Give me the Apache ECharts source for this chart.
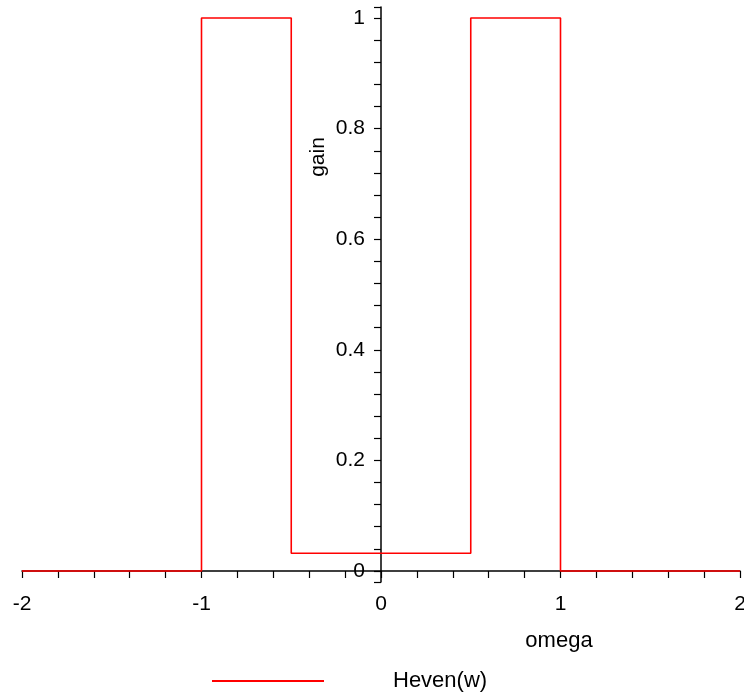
<!DOCTYPE html>
<html>
<head>
<meta charset="utf-8">
<script src="https://cdn.jsdelivr.net/npm/echarts@6/dist/echarts.min.js"></script>
<style>html,body{margin:0;padding:0;background:#fff}#c{width:744px;height:698px}</style>
</head>
<body>
<div id="c"></div>
<script>
// breakpoints of the curve Heven(w)
var omega = [-2, -1, -1, -0.5, -0.5, 0.5, 0.5, 1, 1, 2];
var gain  = [0, 0, 1, 1, 0.032, 0.032, 1, 1, 0, 0];
var xTicks = [-2, -1.8, -1.6, -1.4, -1.2, -1, -0.8, -0.6, -0.4, -0.2, 0, 0.2, 0.4, 0.6, 0.8, 1, 1.2, 1.4, 1.6, 1.8, 2];
var xLabels = [-2, -1, 0, 1, 2];
var yTicks = [-0.02, 0, 0.04, 0.08, 0.12, 0.16, 0.2, 0.24, 0.28, 0.32, 0.36, 0.4, 0.44, 0.48, 0.52, 0.56, 0.6, 0.64, 0.68, 0.72, 0.76, 0.8, 0.84, 0.88, 0.92, 0.96, 1, 1.02];
var yLabels = [0, 0.2, 0.4, 0.6, 0.8, 1];
var seriesName = 'Heven(w)';

var FONT = '"Liberation Sans", Arial, sans-serif';
var data = omega.map(function (w, i) { return [w, gain[i]]; });

var chart = echarts.init(document.getElementById('c'), null, {renderer: 'canvas'});
chart.setOption({
  animation: false,
  backgroundColor: '#fff',
  grid: {left: 22, right: 4, top: 7, bottom: 116, containLabel: false, outerBoundsMode: 'none'},
  xAxis: {
    type: 'value', min: -2, max: 2, offset: -11,
    axisLine: {onZero: false, lineStyle: {color: '#000', width: 1.5}},
    axisTick: {show: true, length: 7, customValues: xTicks, lineStyle: {color: '#000', width: 1.2}},
    axisLabel: {customValues: xLabels, margin: 23, color: '#000', fontSize: 21, fontFamily: FONT,
      formatter: function (v) { return String(v); }},
    splitLine: {show: false}
  },
  yAxis: {
    type: 'value', min: -0.02, max: 1.02, offset: -359,
    axisLine: {onZero: false, lineStyle: {color: '#000', width: 1.5}},
    axisTick: {show: true, length: 7, customValues: yTicks, lineStyle: {color: '#000', width: 1.2}},
    axisLabel: {customValues: yLabels, margin: 16, color: '#000', fontSize: 21, fontFamily: FONT,
      formatter: function (v) { return String(v); }},
    splitLine: {show: false}
  },
  legend: {
    show: true, left: 212, top: 670, padding: 0, itemWidth: 112, itemHeight: 2, itemGap: 10,
    data: [{name: seriesName, icon: 'rect', itemStyle: {color: '#f00', borderWidth: 0}}],
    textStyle: {color: '#000', fontSize: 22, fontFamily: FONT, padding: [0, 0, 0, 64]}
  },
  graphic: [
    {type: 'text', x: 318, y: 157, rotation: Math.PI / 2,
      style: {text: 'gain', fontSize: 21, fontFamily: FONT, fill: '#000', align: 'center', verticalAlign: 'middle'}},
    {type: 'text', x: 559, y: 641,
      style: {text: 'omega', fontSize: 22, fontFamily: FONT, fill: '#000', align: 'center', verticalAlign: 'middle'}}
  ],
  series: [{
    name: seriesName, type: 'line', data: data, symbol: 'none', showSymbol: false,
    lineStyle: {color: '#f00', width: 1.6}, itemStyle: {color: '#f00'}, z: 1
  }]
});
</script>
</body>
</html>
